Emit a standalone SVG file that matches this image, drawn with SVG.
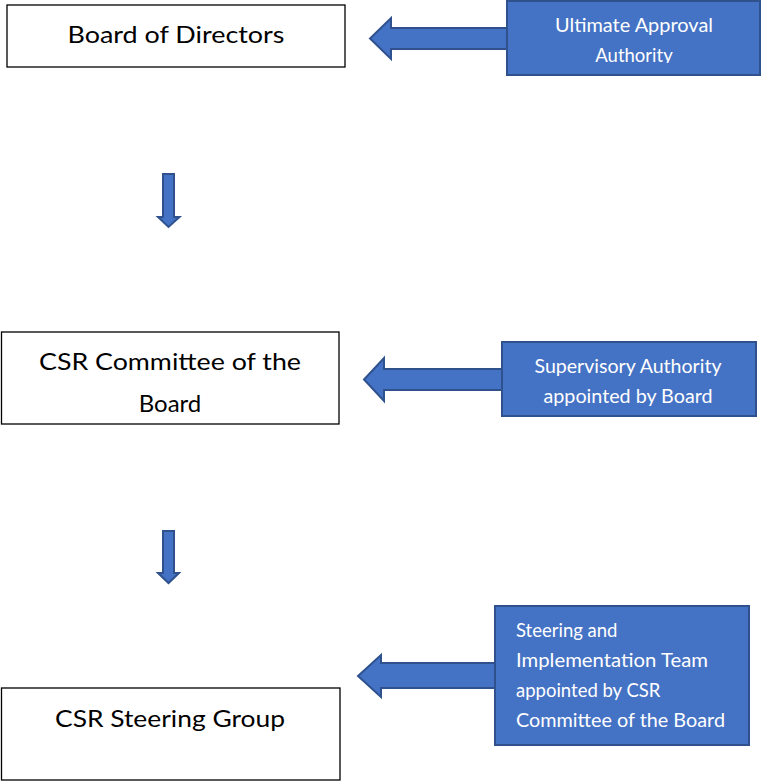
<svg xmlns="http://www.w3.org/2000/svg" width="761" height="781" viewBox="0 0 761 781">
<style>
.node{fill:#fff;stroke:#000;stroke-width:1.3}
.nt{font-family:Lato,"Open Sans",sans-serif;font-size:24px;fill:#000;text-anchor:middle}
.call{fill:#4472C4;stroke:#2F528F;stroke-width:2}
.ct{font-family:Lato,"Open Sans",sans-serif;font-size:18.5px;fill:#fff}
.arr{fill:#4472C4;stroke:#2F528F;stroke-width:2;stroke-linejoin:miter}
</style>
<defs>
<clipPath id="c1"><rect x="507" y="1" width="253" height="62"/></clipPath>
</defs>
<rect width="761" height="781" fill="#fff"/>
<g id="board">
<rect class="node" x="7" y="5" width="338" height="62"/>
<text class="nt" x="176" y="43" textLength="217" lengthAdjust="spacingAndGlyphs">Board of Directors</text>
</g>
<g id="committee">
<rect class="node" x="1.5" y="332" width="337.5" height="92"/>
<text class="nt" x="170" y="370" textLength="262" lengthAdjust="spacingAndGlyphs">CSR Committee of the</text>
<text class="nt" x="170" y="412">Board</text>
</g>
<g id="steering">
<rect class="node" x="1.5" y="688" width="338.5" height="92"/>
<text class="nt" x="170" y="727" textLength="230" lengthAdjust="spacingAndGlyphs">CSR Steering Group</text>
</g>
<g id="connectors">
<path class="arr" d="M163,174 H174 V217 H179.5 L168.5,227 L158,217 H163 Z"/>
<path class="arr" d="M163,531 H174 V573 H179 L168.5,583 L158,573 H163 Z"/>
<path class="arr" d="M507,28 H391 V18 L370,38.5 L391,59 V49 H507 Z"/>
<path class="arr" d="M502,369 H384 V358 L364,379.5 L384,401 V390 H502 Z"/>
<path class="arr" d="M495,663 H381 V655 L358,676 L381,697 V688 H495 Z"/>
</g>
<g id="ultimate">
<rect class="call" x="507" y="1" width="253" height="74"/>
<g clip-path="url(#c1)">
<text class="ct" x="634" y="32" text-anchor="middle" textLength="158" lengthAdjust="spacingAndGlyphs">Ultimate Approval</text>
<text class="ct" x="634" y="62" text-anchor="middle">Authority</text>
</g>
</g>
<g id="supervisory">
<rect class="call" x="502" y="342" width="254" height="74"/>
<text class="ct" x="628" y="373" text-anchor="middle" textLength="187" lengthAdjust="spacingAndGlyphs">Supervisory Authority</text>
<text class="ct" x="628" y="403" text-anchor="middle" textLength="169" lengthAdjust="spacingAndGlyphs">appointed by Board</text>
</g>
<g id="team">
<rect class="call" x="495" y="606" width="254" height="139"/>
<text class="ct" x="516" y="637">Steering and</text>
<text class="ct" x="516" y="667" textLength="192" lengthAdjust="spacingAndGlyphs">Implementation Team</text>
<text class="ct" x="516" y="697">appointed by CSR</text>
<text class="ct" x="516" y="727" textLength="209" lengthAdjust="spacingAndGlyphs">Committee of the Board</text>
</g>
</svg>
